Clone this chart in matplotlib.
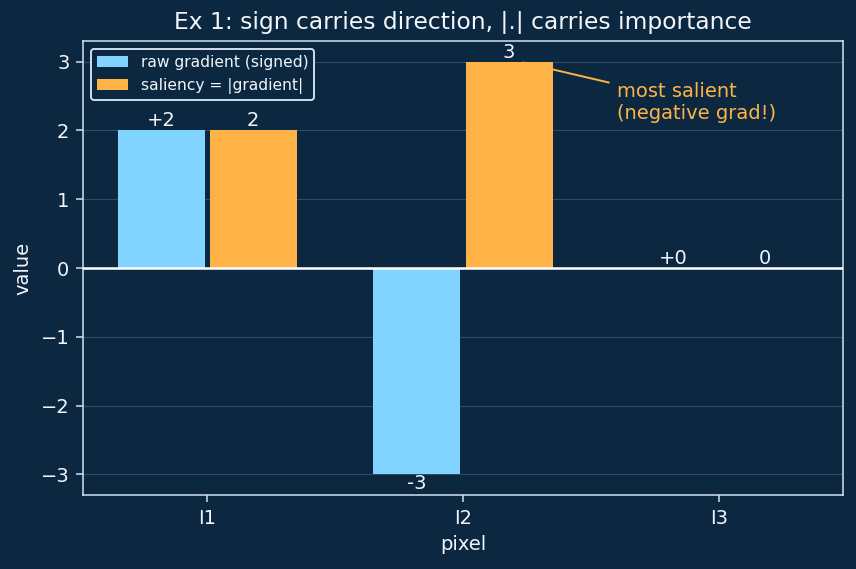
import matplotlib
matplotlib.use("Agg")
import matplotlib.pyplot as plt
import numpy as np

pixels = ["I1", "I2", "I3"]
raw_gradient = [2, -3, 0]
saliency = [2, 3, 0]
raw_labels = ["+2", "-3", "+0"]
sal_labels = ["2", "3", "0"]

BG = "#0c2841"
BLUE = "#80d4ff"
ORANGE = "#ffb347"
FG = "#f2f6fa"
SPINE = "#d0deec"

DPI = 140
fig = plt.figure(figsize=(856 / DPI, 569 / DPI), dpi=DPI, facecolor=BG)
W, H = 856, 569
ax = fig.add_axes([83 / W, 1 - 495 / H, (843 - 83) / W, (495 - 41) / H])
ax.set_facecolor(BG)

x = np.arange(len(pixels))
w = 0.34
off = 0.18
b1 = ax.bar(x - off, raw_gradient, w, color=BLUE, label="raw gradient (signed)", zorder=3)
b2 = ax.bar(x + off, saliency, w, color=ORANGE, label="saliency = |gradient|", zorder=3)
ax.bar_label(b1, labels=raw_labels, padding=0, color=FG, fontsize=10)
ax.bar_label(b2, labels=sal_labels, padding=0, color=FG, fontsize=10)

ax.axhline(0, color="white", lw=1.3, zorder=4)
ax.grid(axis="y", color="#5a7590", alpha=0.45, lw=0.6, zorder=0)
ax.set_axisbelow(True)

ax.set_xticks(x)
ax.set_xticklabels(pixels)
ax.set_yticks([-3, -2, -1, 0, 1, 2, 3])
ax.tick_params(colors=SPINE, labelcolor=FG, labelsize=10)
for s in ax.spines.values():
    s.set_color(SPINE)
ax.set_xlabel("pixel", color=FG, fontsize=10)
ax.set_ylabel("value", color=FG, fontsize=10)
ax.set_title("Ex 1: sign carries direction, |.| carries importance", color=FG, fontsize=12)

ax.annotate("most salient\n(negative grad!)", xy=(1 + off + 0.04, 3.0), xytext=(1.6, 2.40),
            ha="left", va="center", color=ORANGE, fontsize=10,
            arrowprops=dict(arrowstyle="-", color=ORANGE, lw=1.0))

leg = ax.legend(loc="upper left", fontsize=8, facecolor=BG, edgecolor=SPINE, framealpha=1)
for t in leg.get_texts():
    t.set_color(FG)

fig.savefig("out.png", dpi=DPI, facecolor=BG)
